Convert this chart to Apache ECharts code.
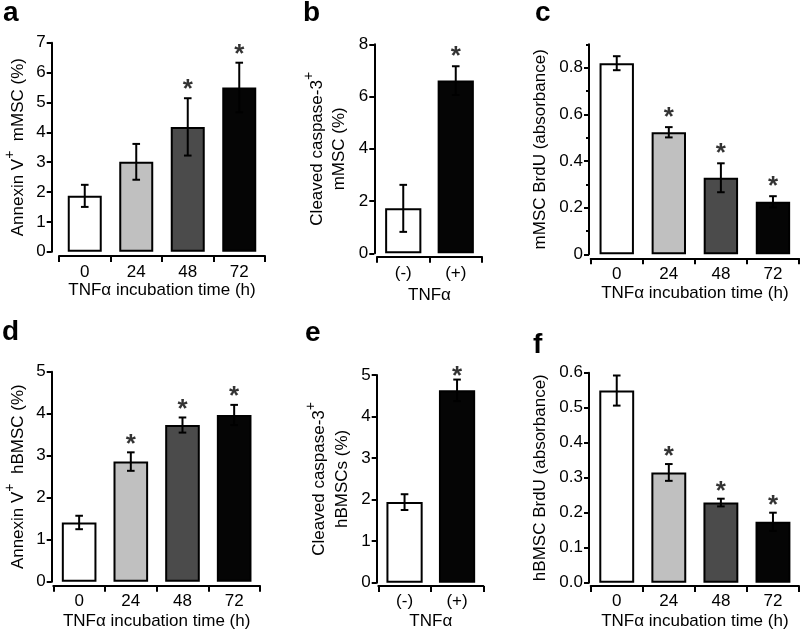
<!DOCTYPE html>
<html><head><meta charset="utf-8">
<script src="https://cdn.jsdelivr.net/npm/echarts@6/dist/echarts.min.js"></script>
<style>html,body{margin:0;padding:0;background:#fff}#c{width:800px;height:631px}</style>
</head><body><div id="c"></div>
<script>
// ---------- data ----------
const timeCats = ['0', '24', '48', '72'];
const tnfCats = ['(-)', '(+)'];

const aMean = [1.87, 3.01, 4.18, 5.50];
const aErr  = [0.37, 0.60, 0.96, 0.83];
const aStar = [false, false, true, true];
const aTicks = [0, 1, 2, 3, 4, 5, 6, 7];

const bMean = [1.72, 6.61];
const bErr  = [0.90, 0.55];
const bStar = [false, true];
const bTicks = [0, 2, 4, 6, 8];

const cMean = [0.819, 0.523, 0.328, 0.225];
const cErr  = [0.030, 0.022, 0.062, 0.024];
const cStar = [false, true, true, true];
const cTicks = [0, 0.2, 0.4, 0.6, 0.8];
const cMinorTicks = [0.1, 0.3, 0.5, 0.7, 0.9];

const dMean = [1.41, 2.86, 3.73, 3.97];
const dErr  = [0.16, 0.22, 0.18, 0.24];
const dStar = [false, true, true, true];
const dTicks = [0, 1, 2, 3, 4, 5];

const eMean = [1.94, 4.63];
const eErr  = [0.19, 0.26];
const eStar = [false, true];
const eTicks = [0, 1, 2, 3, 4, 5];

const fMean = [0.549, 0.315, 0.229, 0.174];
const fErr  = [0.043, 0.024, 0.011, 0.026];
const fStar = [false, true, true, true];
const fTicks = [0, 0.1, 0.2, 0.3, 0.4, 0.5, 0.6];

const fourColors = ['#ffffff', '#c0c0c0', '#4b4b4b', '#050505'];
const twoColors = ['#ffffff', '#050505'];

// ---------- styling / layout ----------
const FONT = '"Liberation Sans", Arial, Helvetica, sans-serif';
const RICH = {
  t: {fontSize: 17, lineHeight: 30, fontFamily: FONT, color: '#000'},
  s: {fontSize: 14, lineHeight: 9, verticalAlign: 'top', fontFamily: FONT, color: '#000'},
  u: {fontSize: 17, lineHeight: 13.4, fontFamily: FONT, color: '#000'},
  w: {fontSize: 17, lineHeight: 16, fontFamily: FONT, color: '#000'}
};

const panels = [
  {letter:'a', lx:3, lb:23, cats:timeCats, mean:aMean, err:aErr, star:aStar, colors:fourColors, ticks:aTicks, max:7, interval:1,
   yName:'{t|Annexin V}{s|+}{t|  mMSC (%)}', yGap:18.3, xName:'TNFα incubation time (h)',
   left:59, top:42.7, width:206, height:209, yOff:7.3, xOff:4.3, lblMargin:8, xGap:25, barW:'66%', starGap:14},
  {letter:'b', lx:303, lb:23, cats:tnfCats, mean:bMean, err:bErr, star:bStar, colors:twoColors, ticks:bTicks, max:8, interval:2,
   yName:'{t|Cleaved caspase-3}{s|+}\n{u|mMSC (%)}', yGap:28.5, xName:'TNFα',
   left:377, top:44.3, width:105, height:209, yOff:2.7, xOff:3.4, lblMargin:8, xGap:30, barW:'69%', starGap:15},
  {letter:'c', lx:535, lb:23, cats:timeCats, mean:cMean, err:cErr, star:cStar, colors:fourColors, ticks:cTicks, max:0.9, interval:0.2,
   yName:'mMSC BrdU (absorbance)', yGap:40, xName:'TNFα incubation time (h)',
   left:590.7, top:44.3, width:208.3, height:210, yOff:1.7, xOff:4, lblMargin:7.5, xGap:26.7, barW:'66%', starGap:15,
   fmt: v => (v > 0.85 ? '' : String(v))},
  {letter:'d', lx:2, lb:342, cats:timeCats, mean:dMean, err:dErr, star:dStar, colors:fourColors, ticks:dTicks, max:5, interval:1,
   yName:'{t|Annexin V}{s|+}{t|  hBMSC (%)}', yGap:18.6, xName:'TNFα incubation time (h)',
   left:53.3, top:371.7, width:206.7, height:210, yOff:1.6, xOff:4, lblMargin:7, xGap:27, barW:'67%', starGap:14},
  {letter:'e', lx:305, lb:343, cats:tnfCats, mean:eMean, err:eErr, star:eStar, colors:twoColors, ticks:eTicks, max:5, interval:1,
   yName:'{t|Cleaved caspase-3}{s|+}\n{w|hBMSCs (%)}', yGap:26.6, xName:'TNFα',
   left:378.3, top:375, width:105, height:207.7, yOff:1.6, xOff:3.3, lblMargin:7, xGap:27, barW:'69%', starGap:9},
  {letter:'f', lx:533, lb:355, cats:timeCats, mean:fMean, err:fErr, star:fStar, colors:fourColors, ticks:fTicks, max:0.6, interval:0.1,
   yName:'hBMSC BrdU (absorbance)', yGap:40, xName:'TNFα incubation time (h)',
   left:590.7, top:372.7, width:208.3, height:210, yOff:1.7, xOff:3.3, lblMargin:7, xGap:27, barW:'67%', starGap:13,
   fmt: v => v.toFixed(1)}
];

const blackLine = {color: '#000', width: 2};
const grid = [], xAxis = [], yAxis = [], series = [], graphic = [];

panels.forEach((p, i) => {
  grid.push({left: p.left, top: p.top, width: p.width, height: p.height, containLabel: false, outerBoundsMode: 'none'});
  xAxis.push({
    gridIndex: i, type: 'category', data: p.cats, position: 'bottom', offset: p.xOff,
    axisLine: {show: true, onZero: false, lineStyle: blackLine},
    axisTick: {show: true, length: 6, alignWithLabel: false, interval: 0, lineStyle: blackLine},
    axisLabel: {show: true, interval: 0, margin: p.lblMargin, color: '#000', fontSize: 17, fontFamily: FONT},
    splitLine: {show: false},
    name: p.xName, nameLocation: 'middle', nameGap: p.xGap,
    nameTextStyle: {color: '#000', fontSize: 17, fontFamily: FONT}
  });
  const yLab = {show: true, margin: 6, color: '#000', fontSize: 17, fontFamily: FONT, customValues: p.ticks};
  if (p.fmt) yLab.formatter = p.fmt;
  yAxis.push({
    gridIndex: i, type: 'value', min: 0, max: p.max, interval: p.interval, position: 'left', offset: p.yOff,
    axisLine: {show: true, onZero: false, lineStyle: blackLine},
    axisTick: {show: true, length: 5, lineStyle: blackLine, customValues: p.ticks},
    axisLabel: yLab,
    splitLine: {show: false},
    name: p.yName, nameLocation: 'middle', nameGap: p.yGap, nameRotate: 90,
    nameTextStyle: {color: '#000', fontSize: 17, fontFamily: FONT, rich: RICH}
  });
  series.push({
    type: 'bar', xAxisIndex: i, yAxisIndex: i, barWidth: p.barW, silent: true, z: 2,
    data: p.mean.map((v, j) => ({value: v, itemStyle: {color: p.colors[j], borderColor: '#000', borderWidth: 2}}))
  });
  series.push({
    type: 'custom', xAxisIndex: i, yAxisIndex: i, silent: true, z: 5,
    data: p.mean.map((v, j) => [j, v, p.err[j]]),
    encode: {x: 0, y: 1},
    renderItem: (params, api) => {
      const x = api.value(0), m = api.value(1), e = api.value(2);
      const hi = api.coord([x, m + e]);
      const lo = api.coord([x, m - e]);
      const hw = 3.8;
      const st = {stroke: '#000', lineWidth: 2};
      return {type: 'group', children: [
        {type: 'line', shape: {x1: hi[0], y1: hi[1], x2: lo[0], y2: lo[1]}, style: st},
        {type: 'line', shape: {x1: hi[0] - hw, y1: hi[1], x2: hi[0] + hw, y2: hi[1]}, style: st},
        {type: 'line', shape: {x1: lo[0] - hw, y1: lo[1], x2: lo[0] + hw, y2: lo[1]}, style: st}
      ]};
    }
  });
  const starData = [];
  p.mean.forEach((v, j) => { if (p.star[j]) starData.push([j, v + p.err[j]]); });
  series.push({
    type: 'scatter', xAxisIndex: i, yAxisIndex: i, silent: true, z: 6,
    symbol: 'circle', symbolSize: 0, data: starData,
    label: {show: true, position: 'top', distance: p.starGap - 19, formatter: '*',
            color: '#000', fontSize: 26, fontWeight: 'bold', fontFamily: FONT}
  });
  graphic.push({
    type: 'text', left: p.lx, top: p.lb - 23.7, silent: true,
    style: {text: p.letter, font: 'bold 28px ' + FONT, fill: '#000'}
  });
});

// minor ticks for panel c
yAxis.push({
  gridIndex: 2, type: 'value', min: 0, max: 0.9, interval: 0.1, position: 'left', offset: 1.7,
  axisLine: {show: false}, axisLabel: {show: false}, splitLine: {show: false},
  axisTick: {show: true, length: 3, lineStyle: blackLine, customValues: cMinorTicks}
});

const chart = echarts.init(document.getElementById('c'), null, {renderer: 'canvas'});
chart.setOption({
  animation: false,
  backgroundColor: '#fff',
  grid, xAxis, yAxis, series, graphic
});
</script>
</body></html>
